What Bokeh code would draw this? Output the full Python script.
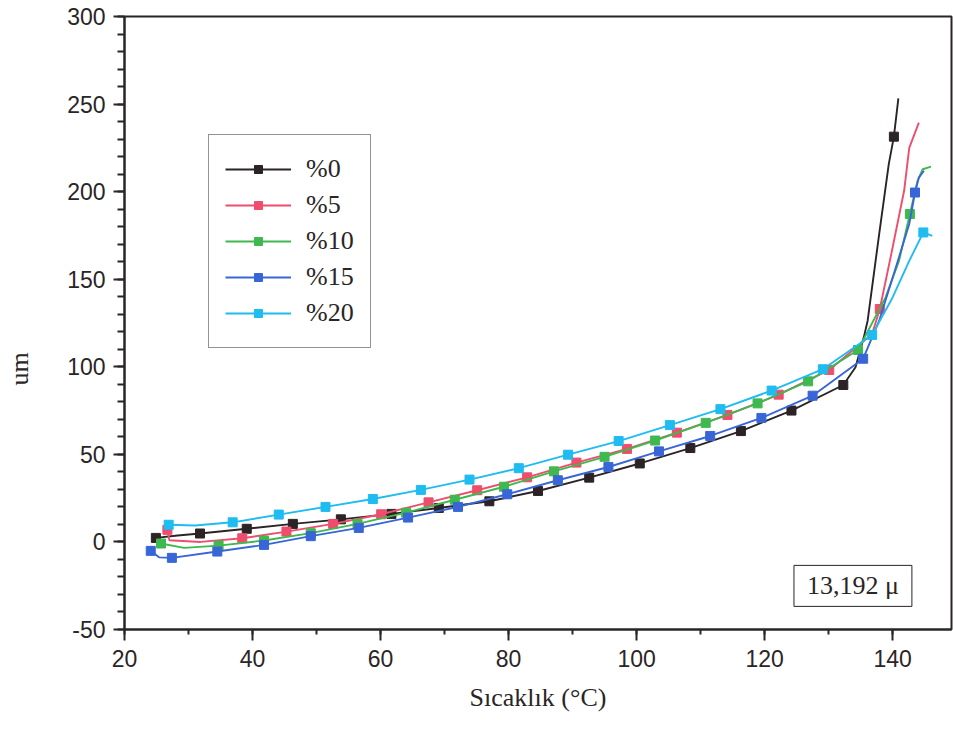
from bokeh.plotting import figure
from bokeh.models import Legend, LegendItem, Label, Range1d, SingleIntervalTicker, PrintfTickFormatter, Title
from bokeh.embed import file_html
from bokeh.resources import INLINE

names = ["%0", "%5", "%10", "%15", "%20"]
colors = ["#2b2325", "#ef4d6b", "#3fb84f", "#3866d6", "#1ebcf0"]

# dense curves (temperature, displacement)
x0 = [24.9, 28.3, 31.8, 39.1, 46.3, 53.8, 61.7, 69.1, 77.0, 84.6, 92.6, 100.5, 108.4, 116.3, 124.2, 132.3, 134.2, 135.5, 136.1, 137.9, 139.4, 140.2, 140.9]
y0 = [2.3, 3.7, 4.8, 7.5, 10.3, 12.9, 16.0, 19.4, 23.2, 29.1, 36.7, 44.8, 53.6, 63.3, 75.0, 89.6, 99.7, 116.8, 126.3, 175.8, 215.7, 231.4, 253.3]
x5 = [26.7, 27.0, 31.9, 38.4, 45.3, 52.6, 60.1, 67.5, 75.1, 82.9, 90.6, 98.5, 106.3, 114.2, 122.2, 130.1, 136.8, 138.0, 140.0, 141.8, 142.6, 144.1]
y5 = [6.9, 1.0, 0.0, 2.1, 5.9, 10.3, 15.8, 22.6, 29.5, 36.9, 45.3, 53.1, 62.4, 72.5, 84.1, 98.2, 118.7, 133.0, 168.1, 200.5, 225.0, 239.4]
x10 = [25.7, 29.3, 34.7, 41.8, 49.1, 56.4, 64.0, 71.6, 79.3, 87.1, 95.0, 102.9, 110.8, 118.9, 126.8, 134.6, 138.9, 141.0, 142.7, 143.9, 144.7, 146.0]
y10 = [-0.9, -3.4, -2.1, 0.8, 5.0, 10.3, 16.7, 24.1, 31.5, 40.3, 48.6, 57.9, 68.0, 79.1, 91.7, 109.6, 139.6, 160.5, 187.2, 206.2, 212.8, 214.3]
x15 = [24.1, 25.4, 27.4, 34.5, 41.8, 49.1, 56.6, 64.3, 72.1, 79.8, 87.7, 95.6, 103.5, 111.5, 119.5, 127.5, 135.4, 137.9, 140.5, 142.6, 143.5, 144.1, 144.9]
y15 = [-5.1, -8.8, -9.1, -5.5, -1.7, 3.3, 8.0, 13.9, 20.0, 27.2, 35.2, 42.8, 51.7, 60.5, 70.8, 83.5, 104.6, 126.3, 156.7, 181.5, 199.5, 208.0, 211.9]
x20 = [26.9, 31.0, 36.9, 44.1, 51.4, 58.8, 66.3, 73.9, 81.6, 89.3, 97.2, 105.2, 113.1, 121.1, 129.1, 136.8, 140.0, 142.6, 144.8, 146.2]
y20 = [9.8, 9.4, 11.2, 15.6, 20.0, 24.5, 29.7, 35.6, 42.1, 49.8, 57.6, 66.7, 75.8, 86.4, 98.6, 118.2, 139.6, 160.5, 176.7, 174.8]

# marker positions
m0x = [24.9, 31.8, 39.1, 46.3, 53.8, 61.7, 69.1, 77.0, 84.6, 92.6, 100.5, 108.4, 116.3, 124.2, 132.3, 140.2]
m0y = [2.3, 4.8, 7.5, 10.3, 12.9, 16.0, 19.4, 23.2, 29.1, 36.7, 44.8, 53.6, 63.3, 75.0, 89.6, 231.4]
m5x = [26.7, 38.4, 45.3, 52.6, 60.1, 67.5, 75.1, 82.9, 90.6, 98.5, 106.3, 114.2, 122.2, 130.1, 138.0]
m5y = [6.9, 2.1, 5.9, 10.3, 15.8, 22.6, 29.5, 36.9, 45.3, 53.1, 62.4, 72.5, 84.1, 98.2, 133.0]
m10x = [25.7, 34.7, 41.8, 49.1, 56.4, 64.0, 71.6, 79.3, 87.1, 95.0, 102.9, 110.8, 118.9, 126.8, 134.6, 142.7]
m10y = [-0.9, -2.1, 0.8, 5.0, 10.3, 16.7, 24.1, 31.5, 40.3, 48.6, 57.9, 68.0, 79.1, 91.7, 109.6, 187.2]
m15x = [24.1, 27.4, 34.5, 41.8, 49.1, 56.6, 64.3, 72.1, 79.8, 87.7, 95.6, 103.5, 111.5, 119.5, 127.5, 135.4, 143.5]
m15y = [-5.1, -9.1, -5.5, -1.7, 3.3, 8.0, 13.9, 20.0, 27.2, 35.2, 42.8, 51.7, 60.5, 70.8, 83.5, 104.6, 199.5]
m20x = [26.9, 36.9, 44.1, 51.4, 58.8, 66.3, 73.9, 81.6, 89.3, 97.2, 105.2, 113.1, 121.1, 129.1, 136.8, 144.8]
m20y = [9.8, 11.2, 15.6, 20.0, 24.5, 29.7, 35.6, 42.1, 49.8, 57.6, 66.7, 75.8, 86.4, 98.6, 118.2, 176.7]

annotation_text = "13,192 \u03bc"
x_title = "S\u0131cakl\u0131k (\u00b0C)"
y_title = "um"

lines = [(x0, y0), (x5, y5), (x10, y10), (x15, y15), (x20, y20)]
marks = [(m0x, m0y), (m5x, m5y), (m10x, m10y), (m15x, m15y), (m20x, m20y)]

ink = "#2a2526"
p = figure(width=953, height=728, x_range=Range1d(20, 149.2), y_range=Range1d(-50, 300),
           output_backend="svg", toolbar_location=None,
           min_border_left=124, min_border_right=2, min_border_top=16, min_border_bottom=99)
p.xgrid.visible = False
p.ygrid.visible = False
p.outline_line_color = ink
p.outline_line_width = 2
p.background_fill_color = "white"
p.border_fill_color = "white"

p.xaxis.ticker = SingleIntervalTicker(interval=20, num_minor_ticks=2)
p.yaxis.ticker = SingleIntervalTicker(interval=50, num_minor_ticks=5)
for ax in (p.xaxis, p.yaxis):
    ax.formatter = PrintfTickFormatter(format="%d")
    ax.axis_line_color = ink
    ax.axis_line_width = 2
    ax.major_tick_line_color = ink
    ax.minor_tick_line_color = ink
    ax.major_tick_line_width = 2
    ax.minor_tick_line_width = 2
    ax.major_tick_in = 0
    ax.minor_tick_in = 0
    ax.major_tick_out = 11
    ax.major_label_text_font = "Liberation Sans"
    ax.major_label_text_font_size = "23px"
    ax.major_label_text_color = ink
p.xaxis.minor_tick_out = 5
p.yaxis.minor_tick_out = 7
p.xaxis.major_label_standoff = 9
p.yaxis.major_label_standoff = 8

p.xaxis.axis_label = x_title
p.xaxis.axis_label_text_font = "Liberation Serif"
p.xaxis.axis_label_text_font_style = "normal"
p.xaxis.axis_label_text_font_size = "26px"
p.xaxis.axis_label_text_color = ink
p.xaxis.axis_label_standoff = 13

items = []
for (lx, ly), (mx, my), c, n in zip(lines, marks, colors, names):
    r1 = p.line(lx, ly, line_color=c, line_width=1.9)
    r2 = p.scatter(mx, my, marker="square", size=9, fill_color=c, line_color=c)
    items.append(LegendItem(label=n, renderers=[r1, r2]))

legend = Legend(items=items, location=(84, 281), border_line_color=ink, border_line_width=1,
                padding=16, spacing=0, margin=0, glyph_width=66, glyph_height=20, label_height=36,
                label_standoff=15, label_text_font="Liberation Serif", label_text_font_size="26px",
                label_text_color=ink, background_fill_color="white", background_fill_alpha=1)
p.add_layout(legend)

note = Label(x=133.8, y=-25.1, text=annotation_text, text_align="center", text_baseline="middle",
             text_font="Liberation Serif", text_font_size="26px", text_color=ink,
             border_line_color=ink, border_line_width=1, background_fill_color="white",
             padding=(13, 6))
p.add_layout(note)

# blank second line pushes the rotated title outward, away from the tick labels
ytitle = Title(text=y_title + "\n ", align="left", vertical_align="top", offset=244, standoff=0,
               text_font="Liberation Serif", text_font_size="26px", text_font_style="normal",
               text_color=ink)
p.add_layout(ytitle, "left")

open("out.html", "w").write(file_html(p, INLINE))
